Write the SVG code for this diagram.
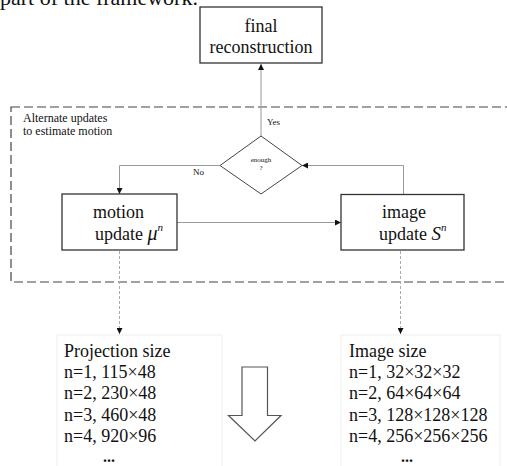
<svg xmlns="http://www.w3.org/2000/svg" width="507" height="466" viewBox="0 0 507 466">
<style>
text{font-family:"Liberation Serif","Times New Roman",serif;fill:#111}
.box{fill:#fff;stroke:#333;stroke-width:1.3}
.t18{font-size:18px}
.conn{fill:none;stroke:#999;stroke-width:1}
.dash{fill:none;stroke:#aaa;stroke-width:1;stroke-dasharray:3 2}
.frame{fill:none;stroke:#444;stroke-width:1.2;stroke-dasharray:9 4}
.faint{fill:none;stroke:#eeeeee;stroke-width:1}
</style>
<defs>
<marker id="ah" viewBox="0 0 8 8" refX="8" refY="4" markerWidth="6" markerHeight="6" markerUnits="userSpaceOnUse" orient="auto">
<path d="M0,0 L8,4 L0,8 z" fill="#111"/>
</marker>
</defs>
<rect width="507" height="466" fill="#fff"/>
<text x="0" y="5" style="font-size:22px">part of the framework.</text>

<g id="loop-frame">
<rect class="frame" x="11" y="107" width="510" height="175"/>
<text x="23" y="122" style="font-size:12px">Alternate updates</text>
<text x="23" y="135" style="font-size:12px">to estimate motion</text>
</g>

<g id="connectors">
<path class="conn" d="M261,136 L261,64" marker-end="url(#ah)"/>
<path class="conn" d="M220,165.5 L119.5,165.5 L119.5,194" marker-end="url(#ah)"/>
<path class="conn" d="M177,222.5 L341,222.5" marker-end="url(#ah)"/>
<path class="conn" d="M403.5,194.5 L403.5,165.5 L302,165.5" marker-end="url(#ah)"/>
<path class="dash" d="M119.5,241 L119.5,334" marker-end="url(#ah)"/>
<path class="dash" d="M400.5,241 L400.5,334" marker-end="url(#ah)"/>
<text x="267" y="125" style="font-size:9px">Yes</text>
<text x="193" y="175" style="font-size:9px">No</text>
</g>

<g id="final">
<rect class="box" x="200" y="7" width="122" height="56"/>
<text class="t18" x="261" y="32" text-anchor="middle">final</text>
<text class="t18" x="261" y="53" text-anchor="middle">reconstruction</text>
</g>

<g id="enough">
<polygon points="261,136 302,165.5 261,194 220,165.5" fill="#fff" stroke="#444" stroke-width="1"/>
<text x="261" y="162" text-anchor="middle" style="font-size:7px">enough</text>
<text x="261" y="170" text-anchor="middle" style="font-size:7px">?</text>
</g>

<g id="motion">
<rect class="box" x="62" y="194" width="115" height="56"/>
<text class="t18" x="93" y="218">motion</text>
<text class="t18" x="95" y="240">update <tspan style="font-style:italic;font-size:20px">μ</tspan><tspan dy="-9" style="font-style:italic;font-size:11px">n</tspan></text>
</g>

<g id="image">
<rect class="box" x="341" y="194.5" width="123" height="55.5"/>
<text class="t18" x="382" y="218">image</text>
<text class="t18" x="379" y="240">update <tspan style="font-style:italic;font-size:19px">S</tspan><tspan dy="-9" style="font-style:italic;font-size:11px">n</tspan></text>
</g>

<g id="projection-size">
<rect class="faint" x="57" y="335" width="165" height="140"/>
<text class="t18" x="64" y="357">Projection size</text>
<text class="t18" x="64" y="378">n=1, 115×48</text>
<text class="t18" x="64" y="399">n=2, 230×48</text>
<text class="t18" x="64" y="421">n=3, 460×48</text>
<text class="t18" x="64" y="442">n=4, 920×96</text>
<text x="109" y="462" text-anchor="middle" font-weight="bold" style="font-size:16px">...</text>
</g>

<g id="scale-arrow">
<polygon points="242,367 267.5,367 267.5,415.5 281,415.5 255,441 228.5,415.5 242,415.5" fill="#fff" stroke="#555" stroke-width="1.2"/>
</g>

<g id="image-size">
<rect class="faint" x="341" y="335" width="159" height="140"/>
<text class="t18" x="349" y="357">Image size</text>
<text class="t18" x="349" y="378">n=1, 32×32×32</text>
<text class="t18" x="349" y="399">n=2, 64×64×64</text>
<text class="t18" x="349" y="421">n=3, 128×128×128</text>
<text class="t18" x="349" y="442">n=4, 256×256×256</text>
<text x="407" y="462" text-anchor="middle" font-weight="bold" style="font-size:16px">...</text>
</g>
</svg>
